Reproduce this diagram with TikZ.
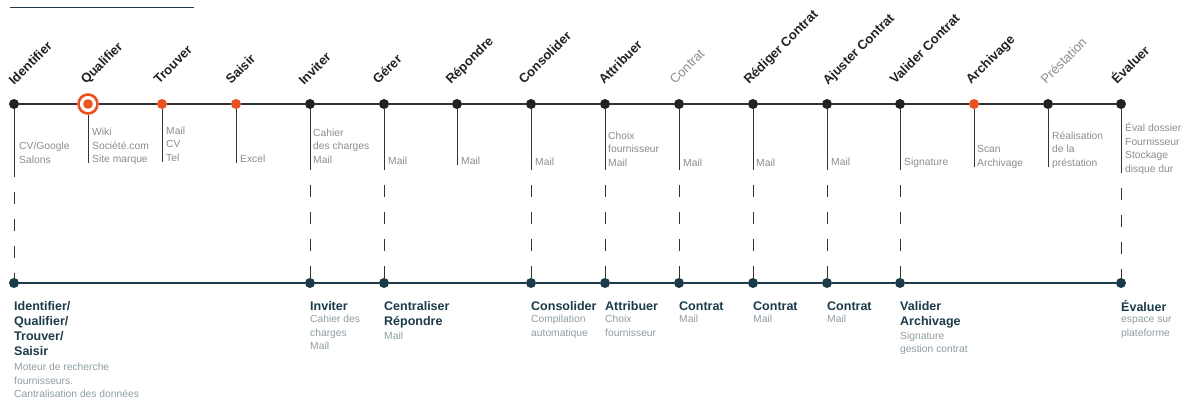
\documentclass[tikz,border=0pt]{standalone}
\usepackage{fontspec}
\setmainfont{Liberation Sans}
\usepackage{tikz}
\usetikzlibrary{positioning}
\usepackage{color}
\definecolor{orangevif}{HTML}{E9511F}
\definecolor{gristrait}{HTML}{333333}
\definecolor{noirpoint}{HTML}{222222}
\definecolor{bleunuit}{HTML}{1B3B4A}
\definecolor{gristexte}{HTML}{8C8C8C}
\definecolor{grisbleu}{HTML}{8E9CA4}

\begin{document}
\begin{tikzpicture}[x=1pt,y=-1pt]

	\tikzstyle{point} = [circle,fill=noirpoint,inner sep=0pt,minimum size=10pt]
	\tikzstyle{pointorange} = [circle,fill=orangevif,inner sep=0pt,minimum size=10pt]
	\tikzstyle{cible} = [circle,draw=orangevif,line width=2.6pt,fill=white,inner sep=0pt,minimum size=19pt]
	\tikzstyle{pointbas} = [circle,fill=bleunuit,inner sep=0pt,minimum size=10pt]
	\tikzstyle{etape} = [rotate=45,anchor=base west,inner sep=0pt,font=\fontsize{13}{15}\selectfont\bfseries,text=noirpoint]
	\tikzstyle{etapegrise} = [etape,font=\fontsize{13}{15}\selectfont,text=gristexte]
	\tikzstyle{outil} = [anchor=south west,inner sep=0pt,align=left,font=\fontsize{10.3}{13.5}\selectfont,text=gristexte]
	\tikzstyle{titre} = [anchor=north west,inner sep=0pt,align=left,font=\fontsize{12.5}{15}\selectfont\bfseries,text=bleunuit]
	\tikzstyle{detail} = [inner sep=0pt,align=left,font=\fontsize{10.3}{13.5}\selectfont,text=grisbleu]
	\tikzstyle{ligne} = [gristrait,line width=1.2pt]
	\tikzstyle{trait} = [gristrait,line width=1pt]
	\tikzstyle{pointille} = [gristrait,line width=1pt,dash pattern=on 12pt off 15pt,dash phase=12pt]
	\tikzstyle{lignebas} = [bleunuit,line width=1.5pt]

	\useasboundingbox (0,0) rectangle (1189,403);

	% filet du haut
	\coordinate (f1) at (10,8);
	\coordinate (f2) at (194,8);
	\draw[bleunuit,line width=1pt] (f1) -- (f2);

	% etapes du haut
	\node[point] (t1) at (14,104) {};
	\node[cible] (t2) at (88,104) {};
	\fill[orangevif] (t2.center) circle (4.8pt);
	\node[pointorange] (t3) at (162,104) {};
	\node[pointorange] (t4) at (236,104) {};
	\node[point] (t5) at (310,104) {};
	\node[point] (t6) at (384,104) {};
	\node[point] (t7) at (457,104) {};
	\node[point] (t8) at (531,104) {};
	\node[point] (t9) at (605,104) {};
	\node[point] (t10) at (679,104) {};
	\node[point] (t11) at (753,104) {};
	\node[point] (t12) at (827,104) {};
	\node[point] (t13) at (900,104) {};
	\node[pointorange] (t14) at (974,104) {};
	\node[point] (t15) at (1048,104) {};
	\node[point] (t16) at (1121,104) {};

	\draw[ligne] (t1) -- (t2) -- (t3) -- (t4) -- (t5) -- (t6) -- (t7) -- (t8) -- (t9) -- (t10) -- (t11) -- (t12) -- (t13) -- (t14) -- (t15) -- (t16);

	\node[etape] (e1) at (14,86) {Identifier};
	\node[etape] (e2) at (86,85) {Qualifier};
	\node[etape] (e3) at (159,85) {Trouver};
	\node[etape] (e4) at (231,85) {Saisir};
	\node[etape] (e5) at (304,86) {Inviter};
	\node[etape] (e6) at (378,85) {Gérer};
	\node[etape] (e7) at (451,85) {Répondre};
	\node[etape] (e8) at (524,85) {Consolider};
	\node[etape] (e9) at (604,85) {Attribuer};
	\node[etapegrise] (e10) at (675,85) {Contrat};
	\node[etape] (e11) at (749,85) {Rédiger Contrat};
	\node[etape] (e12) at (828,86) {Ajuster Contrat};
	\node[etape] (e13) at (895,85) {Valider Contrat};
	\node[etape] (e14) at (971,85) {Archivage};
	\node[etapegrise] (e15) at (1046,85) {Préstation};
	\node[etape] (e16) at (1117,85) {Évaluer};

	% outils
	\node[outil] (o1) at (19,163.5) {CV/Google\\Salons};
	\node[outil] (o2) at (92,165) {Wiki\\Société.com\\Site marque};
	\node[outil] (o3) at (166,161.5) {Mail\\CV\\Tel};
	\node[outil] (o4) at (240,162.5) {Excel};
	\node[outil] (o5) at (313,163.5) {Cahier\\des charges\\Mail};
	\node[outil] (o6) at (388,164.5) {Mail};
	\node[outil] (o7) at (461,164.5) {Mail};
	\node[outil] (o8) at (535,165.5) {Mail};
	\node[outil] (o9) at (608,166.5) {Choix\\fournisseur\\Mail};
	\node[outil] (o10) at (683,166.5) {Mail};
	\node[outil] (o11) at (756,166.5) {Mail};
	\node[outil] (o12) at (831,165.5) {Mail};
	\node[outil] (o13) at (904,167.7) {Signature};
	\node[outil] (o14) at (977,168.7) {Scan\\Archivage};
	\node[outil] (o15) at (1052,168.7) {Réalisation\\de la\\préstation};
	\node[outil] (o16) at (1125,174.7) {Éval dossier\\Fournisseur\\Stockage\\disque dur};

	% traits verticaux
	\coordinate (s1) at (14,177);
	\coordinate (s2) at (88,163);
	\coordinate (s3) at (162,162);
	\coordinate (s4) at (236,163);
	\coordinate (s5) at (310,170);
	\coordinate (s6) at (384,170);
	\coordinate (s7) at (457,165);
	\coordinate (s8) at (531,170);
	\coordinate (s9) at (605,170);
	\coordinate (s10) at (679,170);
	\coordinate (s11) at (753,170);
	\coordinate (s12) at (827,170);
	\coordinate (s13) at (900,170);
	\coordinate (s14) at (974,167);
	\coordinate (s15) at (1048,167);
	\coordinate (s16) at (1121,173);

	\draw[trait] (t1) -- (s1);
	\draw[trait] (t2) -- (s2);
	\draw[trait] (t3) -- (s3);
	\draw[trait] (t4) -- (s4);
	\draw[trait] (t5) -- (s5);
	\draw[trait] (t6) -- (s6);
	\draw[trait] (t7) -- (s7);
	\draw[trait] (t8) -- (s8);
	\draw[trait] (t9) -- (s9);
	\draw[trait] (t10) -- (s10);
	\draw[trait] (t11) -- (s11);
	\draw[trait] (t12) -- (s12);
	\draw[trait] (t13) -- (s13);
	\draw[trait] (t14) -- (s14);
	\draw[trait] (t15) -- (s15);
	\draw[trait] (t16) -- (s16);

	% ligne du bas
	\node[pointbas] (b1) at (14,283) {};
	\node[pointbas] (b5) at (310,283) {};
	\node[pointbas] (b6) at (384,283) {};
	\node[pointbas] (b8) at (531,283) {};
	\node[pointbas] (b9) at (605,283) {};
	\node[pointbas] (b10) at (679,283) {};
	\node[pointbas] (b11) at (753,283) {};
	\node[pointbas] (b12) at (827,283) {};
	\node[pointbas] (b13) at (900,283) {};
	\node[pointbas] (b16) at (1121,283) {};

	\draw[lignebas] (b1) -- (b5) -- (b6) -- (b8) -- (b9) -- (b10) -- (b11) -- (b12) -- (b13) -- (b16);

	\draw[pointille] (s1) -- (b1);
	\draw[pointille] (s5) -- (b5);
	\draw[pointille] (s6) -- (b6);
	\draw[pointille] (s8) -- (b8);
	\draw[pointille] (s9) -- (b9);
	\draw[pointille] (s10) -- (b10);
	\draw[pointille] (s11) -- (b11);
	\draw[pointille] (s12) -- (b12);
	\draw[pointille] (s13) -- (b13);
	\draw[pointille] (s16) -- (b16);

	% titres et details
	\node[titre] (r1) at (14,301.5) {Identifier/\\Qualifier/\\Trouver/\\Saisir};
	\node[titre] (r5) at (310,301.5) {Inviter};
	\node[titre] (r6) at (384,301.5) {Centraliser\\Répondre};
	\node[titre] (r8) at (531,301.5) {Consolider};
	\node[titre] (r9) at (605,301.5) {Attribuer};
	\node[titre] (r10) at (679,301.5) {Contrat};
	\node[titre] (r11) at (753,301.5) {Contrat};
	\node[titre] (r12) at (827,301.5) {Contrat};
	\node[titre] (r13) at (900,301.5) {Valider\\Archivage};
	\node[titre] (r16) at (1121,300.5) {Évaluer};

	\node[detail,below=7pt of r1.south west,anchor=north west] (d1) {Moteur de recherche\\fournisseurs.\\Cantralisation des données};
	\node[detail,below=4pt of r5.south west,anchor=north west] (d5) {Cahier des\\charges\\Mail};
	\node[detail,below=3pt of r6.south west,anchor=north west] (d6) {Mail};
	\node[detail,below=4pt of r8.south west,anchor=north west] (d8) {Compilation\\automatique};
	\node[detail,below=4pt of r9.south west,anchor=north west] (d9) {Choix\\fournisseur};
	\node[detail,below=4pt of r10.south west,anchor=north west] (d10) {Mail};
	\node[detail,below=4pt of r11.south west,anchor=north west] (d11) {Mail};
	\node[detail,below=4pt of r12.south west,anchor=north west] (d12) {Mail};
	\node[detail,below=3pt of r13.south west,anchor=north west] (d13) {Signature\\gestion contrat};
	\node[detail,below=5pt of r16.south west,anchor=north west] (d16) {espace sur\\plateforme};

\end{tikzpicture}
\end{document}
